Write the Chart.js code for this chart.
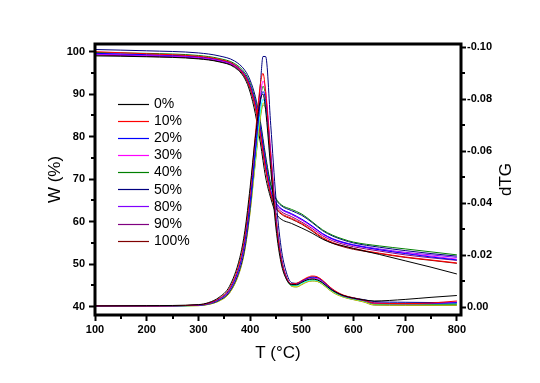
<!DOCTYPE html>
<html><head><meta charset="utf-8">
<script src="https://cdn.jsdelivr.net/npm/chart.js@4/dist/chart.umd.min.js"></script>
<style>html,body{margin:0;padding:0;background:#fff;overflow:hidden}</style>
</head><body>
<canvas id="c" width="540" height="383"></canvas>
<script>
// ---------- data ----------
const sampleLabels = ['0%','10%','20%','30%','40%','50%','80%','90%','100%'];
const xTicks  = [100,200,300,400,500,600,700,800];
const xMinor  = [150,250,350,450,550,650,750];
const yTicks  = [40,50,60,70,80,90,100];
const yMinor  = [45,55,65,75,85,95];
const y2Ticks = [-0.10,-0.08,-0.06,-0.04,-0.02,0.00];
const y2Minor = [-0.09,-0.07,-0.05,-0.03,-0.01];

const tgTemps = [100,200,300,340,370,390,400,410,420,430,440,450,460,480,500,520,540,560,580,600,650,700,750,800];
const tg0   = [99.0,98.8,98.3,97.6,96.3,93.6,90.5,85.5,78.5,70.5,65.5,62.0,60.6,59.6,58.5,57.3,55.9,54.9,54.3,53.7,52.3,50.8,49.3,47.7];
const tg10  = [100.0,99.5,98.9,98.2,96.9,94.3,91.6,87.2,80.6,72.6,66.5,63.4,62.0,60.8,59.6,58.0,56.3,55.1,54.3,53.7,52.6,51.7,51.0,50.3];
const tg20  = [99.6,99.3,98.8,98.1,96.9,94.6,92.1,88.0,81.8,73.8,67.4,64.5,63.1,61.9,60.6,59.0,57.2,55.9,55.1,54.5,53.4,52.5,51.7,51.0];
const tg30  = [99.5,99.2,98.7,98.0,96.8,94.5,92.0,87.8,81.5,73.5,67.2,64.4,63.0,61.8,60.4,58.8,57.0,55.8,55.0,54.4,53.4,52.6,51.9,51.2];
const tg40  = [99.8,99.6,99.1,98.4,97.2,95.0,92.6,88.6,82.5,74.8,68.5,65.5,64.0,62.9,61.8,60.0,58.1,56.8,55.9,55.2,54.3,53.6,52.9,52.2];
const tg50  = [100.5,100.2,99.7,99.0,97.8,95.6,93.3,89.5,83.5,75.5,68.8,65.3,63.8,62.6,61.5,59.8,57.9,56.6,55.7,55.0,54.0,53.2,52.5,51.9];
const tg80  = [99.4,99.1,98.6,97.9,96.7,94.4,91.9,87.7,81.3,73.3,67.0,64.2,62.9,61.7,60.4,58.9,57.2,56.0,55.2,54.6,53.6,52.8,52.2,51.6];
const tg90  = [99.3,99.0,98.5,97.8,96.6,94.2,91.6,87.3,80.9,72.9,66.7,63.8,62.4,61.2,59.9,58.4,56.7,55.5,54.7,54.1,53.1,52.2,51.5,50.9];
const tg100 = [99.2,98.9,98.4,97.7,96.5,94.0,91.3,86.9,80.4,72.4,66.3,63.2,61.8,60.6,59.4,57.8,56.1,54.9,54.1,53.5,52.5,51.6,50.9,50.2];

const dtgTemps = [100,200,300,320,340,360,380,390,400,410,420,425,430,440,450,460,470,480,490,500,510,520,530,540,550,560,580,600,620,640,700,750,800];
const dtg0   = [-0.0005,-0.0006,-0.0010,-0.0018,-0.0038,-0.0080,-0.0190,-0.0295,-0.0460,-0.0650,-0.0800,-0.0820,-0.0760,-0.0530,-0.0305,-0.0170,-0.0108,-0.0087,-0.0087,-0.0096,-0.0105,-0.0108,-0.0105,-0.0094,-0.0078,-0.0064,-0.0045,-0.0035,-0.0028,-0.0024,-0.0030,-0.0038,-0.0045];
const dtg10  = [-0.0005,-0.0005,-0.0009,-0.0016,-0.0034,-0.0072,-0.0175,-0.0275,-0.0440,-0.0660,-0.0860,-0.0900,-0.0830,-0.0570,-0.0330,-0.0185,-0.0115,-0.0090,-0.0092,-0.0103,-0.0114,-0.0120,-0.0117,-0.0104,-0.0086,-0.0069,-0.0047,-0.0036,-0.0027,-0.0016,-0.0014,-0.0016,-0.0024];
const dtg20  = [-0.0005,-0.0005,-0.0008,-0.0015,-0.0031,-0.0067,-0.0162,-0.0255,-0.0405,-0.0600,-0.0790,-0.0830,-0.0795,-0.0575,-0.0338,-0.0190,-0.0116,-0.0090,-0.0091,-0.0101,-0.0111,-0.0116,-0.0114,-0.0101,-0.0083,-0.0066,-0.0045,-0.0035,-0.0027,-0.0017,-0.0015,-0.0015,-0.0017];
const dtg30  = [-0.0005,-0.0005,-0.0008,-0.0014,-0.0030,-0.0064,-0.0158,-0.0250,-0.0405,-0.0610,-0.0815,-0.0870,-0.0835,-0.0600,-0.0350,-0.0195,-0.0117,-0.0088,-0.0088,-0.0098,-0.0108,-0.0112,-0.0110,-0.0098,-0.0081,-0.0065,-0.0044,-0.0034,-0.0026,-0.0015,-0.0013,-0.0014,-0.0020];
const dtg40  = [-0.0005,-0.0005,-0.0008,-0.0014,-0.0029,-0.0063,-0.0156,-0.0246,-0.0398,-0.0600,-0.0800,-0.0850,-0.0815,-0.0590,-0.0345,-0.0192,-0.0115,-0.0086,-0.0086,-0.0096,-0.0106,-0.0110,-0.0108,-0.0096,-0.0079,-0.0063,-0.0043,-0.0033,-0.0025,-0.0013,-0.0012,-0.0012,-0.0012];
const dtg50  = [-0.0005,-0.0005,-0.0007,-0.0012,-0.0026,-0.0058,-0.0145,-0.0230,-0.0380,-0.0600,-0.0860,-0.0965,-0.0965,-0.0700,-0.0420,-0.0230,-0.0135,-0.0095,-0.0092,-0.0100,-0.0110,-0.0116,-0.0114,-0.0102,-0.0085,-0.0068,-0.0046,-0.0036,-0.0029,-0.0022,-0.0019,-0.0018,-0.0019];
const dtg80  = [-0.0004,-0.0004,-0.0007,-0.0013,-0.0027,-0.0060,-0.0150,-0.0238,-0.0385,-0.0575,-0.0755,-0.0800,-0.0770,-0.0565,-0.0335,-0.0188,-0.0113,-0.0084,-0.0083,-0.0092,-0.0101,-0.0105,-0.0103,-0.0092,-0.0076,-0.0061,-0.0042,-0.0032,-0.0024,-0.0013,-0.0012,-0.0012,-0.0013];
const dtg90  = [-0.0004,-0.0004,-0.0006,-0.0011,-0.0024,-0.0055,-0.0140,-0.0225,-0.0370,-0.0560,-0.0740,-0.0785,-0.0775,-0.0580,-0.0350,-0.0195,-0.0115,-0.0082,-0.0079,-0.0088,-0.0098,-0.0102,-0.0100,-0.0089,-0.0073,-0.0058,-0.0040,-0.0030,-0.0021,-0.0010,-0.0009,-0.0009,-0.0009];
const dtg100 = [-0.0004,-0.0004,-0.0006,-0.0011,-0.0024,-0.0054,-0.0138,-0.0222,-0.0365,-0.0552,-0.0730,-0.0778,-0.0765,-0.0575,-0.0348,-0.0194,-0.0114,-0.0081,-0.0078,-0.0087,-0.0097,-0.0101,-0.0099,-0.0088,-0.0072,-0.0057,-0.0039,-0.0029,-0.0020,-0.0008,-0.0007,-0.0007,-0.0007];

// ---------- styling ----------
const tgSeries  = [tg0,tg10,tg20,tg30,tg40,tg50,tg80,tg90,tg100];
const dtgSeries = [dtg0,dtg10,dtg20,dtg30,dtg40,dtg50,dtg80,dtg90,dtg100];
const tgColors  = ['#000000','#FF0000','#0000FF','#FF00FF','#008000','#000080','#8000FF','#800080','#800000'];
const dtgColors = ['#000000','#FF0000','#0000FF','#FF00FF','#008000','#000080','#00FFFF','#D8D800','#808000'];
const FONT = "'Liberation Sans', Arial, Helvetica, sans-serif";

const datasets = [];
dtgSeries.forEach((arr,i)=>datasets.push({
  label:'dTG '+sampleLabels[i], yAxisID:'y2',
  data: dtgTemps.map((t,k)=>({x:t,y:arr[k]})),
  borderColor:dtgColors[i], borderWidth:1, pointRadius:0, fill:false,
  cubicInterpolationMode:'monotone'
}));
tgSeries.forEach((arr,i)=>datasets.push({
  label:sampleLabels[i], yAxisID:'y', isTG:true,
  data: tgTemps.map((t,k)=>({x:t,y:arr[k]})),
  borderColor:tgColors[i], borderWidth:1, pointRadius:0, fill:false,
  cubicInterpolationMode:'monotone'
}));

const tickFont = {family:FONT, size:11, weight:'bold'};

const framePlugin = {
  id:'frame',
  afterDraw(chart){
    const {ctx, chartArea:a, scales:{x,y,y2}} = chart;
    ctx.save();
    ctx.strokeStyle='#000';
    ctx.lineWidth=3;
    ctx.strokeRect(a.left, a.top, a.right-a.left, a.bottom-a.top);
    ctx.lineWidth=2;
    ctx.beginPath();
    xMinor.forEach(v=>{const p=Math.round(x.getPixelForValue(v)); ctx.moveTo(p,a.bottom); ctx.lineTo(p,a.bottom+4);});
    yMinor.forEach(v=>{const p=Math.round(y.getPixelForValue(v)); ctx.moveTo(a.left,p); ctx.lineTo(a.left-4,p);});
    y2Minor.forEach(v=>{const p=Math.round(y2.getPixelForValue(v)); ctx.moveTo(a.right,p); ctx.lineTo(a.right+4,p);});
    ctx.stroke();
    // legend (TG series)
    ctx.font = '14px '+FONT;
    ctx.textBaseline='middle';
    ctx.textAlign='left';
    chart.data.datasets.filter(d=>d.isTG).forEach((d,i)=>{
      const yy = 103.5 + i*17.15;
      ctx.strokeStyle=d.borderColor; ctx.lineWidth=1.2;
      ctx.beginPath(); ctx.moveTo(118,Math.round(yy)+0.5); ctx.lineTo(149,Math.round(yy)+0.5); ctx.stroke();
      ctx.fillStyle='#000';
      ctx.fillText(d.label,154,yy+0.5);
    });
    // right axis title, reading bottom-to-top
    ctx.save();
    ctx.translate(506,(a.top+a.bottom)/2);
    ctx.rotate(-Math.PI/2);
    ctx.textAlign='center'; ctx.textBaseline='middle';
    ctx.font='17px '+FONT; ctx.fillStyle='#000';
    ctx.fillText(chart.options.scales.y2.title.text,0,0);
    ctx.restore();
    ctx.restore();
  }
};

new Chart(document.getElementById('c'), {
  type:'line',
  data:{datasets},
  options:{
    responsive:false, animation:false, devicePixelRatio:1,
    layout:{padding:{top:44,left:0,right:0,bottom:0}},
    plugins:{legend:{display:false}, tooltip:{enabled:false}},
    scales:{
      x:{type:'linear', position:'bottom', min:100, max:808,
        afterBuildTicks:s=>{s.ticks = xTicks.map(v=>({value:v}));},
        afterFit:s=>{s.height=68;},
        grid:{drawOnChartArea:false, drawTicks:true, tickLength:6, tickWidth:2, tickColor:'#000'},
        border:{display:false},
        ticks:{font:tickFont, color:'#000', padding:2, maxRotation:0, autoSkip:false},
        title:{display:true, text:'T (\u00B0C)', color:'#000', font:{family:FONT, size:17}, padding:{top:0,bottom:19}}
      },
      y:{type:'linear', position:'left', min:38.05, max:101.8,
        afterBuildTicks:s=>{s.ticks = yTicks.map(v=>({value:v}));},
        afterFit:s=>{s.width=95;},
        grid:{drawOnChartArea:false, drawTicks:true, tickLength:6, tickWidth:2, tickColor:'#000'},
        border:{display:false},
        ticks:{font:tickFont, color:'#000', padding:4, autoSkip:false},
        title:{display:true, text:'W (%)', color:'#000', font:{family:FONT, size:17}, padding:{top:45,bottom:0}}
      },
      y2:{type:'linear', position:'right', min:-0.1013, max:0.003, reverse:true,
        afterBuildTicks:s=>{s.ticks = y2Ticks.map(v=>({value:v}));},
        afterFit:s=>{s.width=79;},
        grid:{drawOnChartArea:false, drawTicks:true, tickLength:5, tickWidth:2, tickColor:'#000'},
        border:{display:false},
        ticks:{font:tickFont, color:'#000', padding:1, autoSkip:false, callback:v=>Number(v).toFixed(2)},
        title:{display:false, text:'dTG'}
      }
    }
  },
  plugins:[framePlugin]
});
</script>
</body></html>
